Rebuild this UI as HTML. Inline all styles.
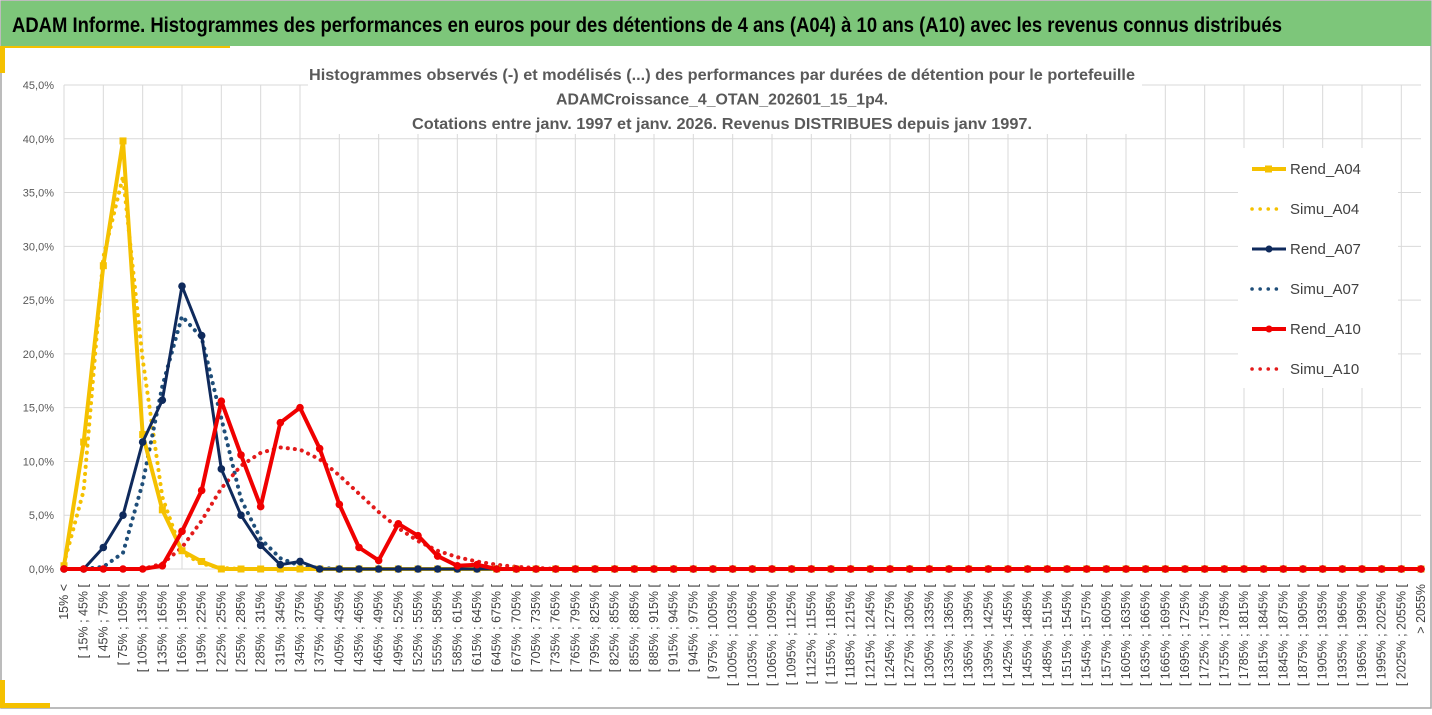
<!DOCTYPE html>
<html><head><meta charset="utf-8"><style>
body{margin:0;width:1432px;height:710px;overflow:hidden;background:#fff;font-family:"Liberation Sans",sans-serif;}
</style></head><body>
<svg id="c" width="1432" height="710" xmlns="http://www.w3.org/2000/svg"></svg>
<script>
const categories=[];
categories.push('15% <');
for(let a=15;a<2055;a+=30)categories.push('[ '+a+'% ; '+(a+30)+'% [');
categories.push('> 2055%');
const yTicks=[0,5,10,15,20,25,30,35,40,45];
const rendA04=[0.3,11.8,28.2,39.8,12.5,5.5,1.7,0.7,0,0,0,0,0];
const simuA04=[0.5,7.3,29,36.5,19.5,6.7,1.5,0.5,0.1,0,0,0,0];
const rendA07=[0,0,2.0,5.0,11.8,15.7,26.3,21.7,9.3,5.0,2.2,0.4,0.7,0,0,0,0,0,0,0,0,0];
const simuA07=[0,0,0.2,1.5,8,17,23.5,21.5,14,6.5,2.8,1.0,0.3,0.1,0,0,0,0,0,0,0,0];
const rendA10=[0,0,0,0,0,0.3,3.5,7.3,15.6,10.6,5.8,13.6,15.0,11.2,6.0,2.0,0.8,4.2,3.1,1.2,0.3,0.4];
const simuA10=[0,0,0,0,0,0.5,2,4.5,7.5,9.6,10.8,11.3,11.1,10.2,8.7,7.0,5.3,3.8,2.6,1.7,1.1,0.7,0.4,0.2,0.1];
function full(a){const r=a.slice();while(r.length<categories.length)r.push(0);return r;}
const NS='http://www.w3.org/2000/svg';
const svg=document.getElementById('c');
function el(t,at,p){const e=document.createElementNS(NS,t);for(const k in at)e.setAttribute(k,at[k]);(p||svg).appendChild(e);return e;}
const X0=64,X1=1421,Y0=569,Y45=85;
const xs=i=>X0+(X1-X0)*i/(categories.length-1);
const ys=v=>Y0-(Y0-Y45)*v/45;
let r=el('rect',{x:1,y:1,width:1430,height:707,fill:'#fff',stroke:'#a6a6a6','stroke-width':1.5});

r=el('rect',{x:1,y:1,width:1430,height:45,fill:'#7dc67a'});

let t=el('text',{x:12,y:32,'font-size':21,'font-weight':'bold',fill:'#000',textLength:1270,lengthAdjust:'spacingAndGlyphs'});
t.textContent='ADAM Informe. Histogrammes des performances en euros pour des détentions de 4 ans (A04) à 10 ans (A10) avec les revenus connus distribués';

el('rect',{x:0,y:46,width:230,height:2,fill:'#f5c100'});
el('rect',{x:0,y:46,width:5,height:27,fill:'#f5c100'});
el('rect',{x:0,y:703,width:50,height:5,fill:'#f5c100'});
el('rect',{x:0,y:680,width:5,height:28,fill:'#f5c100'});
const g=el('g',{});
yTicks.forEach(v=>{el('line',{x1:X0,x2:X1,y1:ys(v),y2:ys(v),stroke:'#d9d9d9','stroke-width':1},g);
 const tt=el('text',{x:54,y:ys(v)+4,'font-size':11,'text-anchor':'end',fill:'#595959'});tt.textContent=v.toFixed(1).replace('.',',')+'%';
 });
for(let i=0;i<categories.length;i+=2)el('line',{x1:xs(i),x2:xs(i),y1:Y45,y2:Y0,stroke:'#d9d9d9','stroke-width':1},g);
categories.forEach((c,i)=>{const tt=el('text',{transform:`translate(${xs(i)+4},584) rotate(-90)`,'font-size':12.5,'text-anchor':'end',fill:'#404040'});
 tt.textContent=c;});
el('rect',{x:308,y:62,width:834,height:72,fill:'#fff'});
const tl=[['Histogrammes observés (-) et modélisés (...) des performances par durées de détention pour le portefeuille',826],['ADAMCroissance_4_OTAN_202601_15_1p4.',332],['Cotations entre janv. 1997 et janv. 2026. Revenus DISTRIBUES depuis janv 1997.',620]];
tl.forEach((s,k)=>{
 const tt=el('text',{x:722,y:80+k*24.5,'font-size':16,'font-weight':'bold','text-anchor':'middle',fill:'#595959',textLength:s[1],lengthAdjust:'spacingAndGlyphs'});tt.textContent=s[0];
 });
const series=[
 {n:'Simu_A04',d:simuA04,c:'#f5c100',w:4,dash:'0.1 7',m:null},
 {n:'Simu_A07',d:simuA07,c:'#1f4e79',w:4,dash:'0.1 7',m:null},
 {n:'Simu_A10',d:simuA10,c:'#e31b1b',w:4,dash:'0.1 7',m:null},
 {n:'Rend_A04',d:rendA04,c:'#f5c100',w:4,dash:null,m:'sq'},
 {n:'Rend_A07',d:rendA07,c:'#0f2a5c',w:3,dash:null,m:'ci'},
 {n:'Rend_A10',d:rendA10,c:'#f00000',w:4,dash:null,m:'ci'}];
series.forEach(s=>{
 const d=full(s.d);const gg=el('g',{});
 
 const at={points:d.map((v,i)=>xs(i)+','+ys(v)).join(' '),fill:'none',stroke:s.c,'stroke-width':s.w,'stroke-linejoin':'round','stroke-linecap':'round'};
 if(s.dash)at['stroke-dasharray']=s.dash;
 el('polyline',at,gg);
 if(s.m)d.forEach((v,i)=>{let m;
  if(s.m==='sq')m=el('rect',{x:xs(i)-3.5,y:ys(v)-3.5,width:7,height:7,fill:s.c},gg);
  else m=el('circle',{cx:xs(i),cy:ys(v),r:3.8,fill:s.c},gg);
  });
});
const lg=el('g',{});
el('rect',{x:1238,y:148,width:160,height:240,fill:'#fff'},lg);
const legend=[['Rend_A04','#f5c100',false,'sq'],['Simu_A04','#f5c100',true],['Rend_A07','#0f2a5c',false,'ci'],['Simu_A07','#1f4e79',true],['Rend_A10','#f00000',false,'ci'],['Simu_A10','#e31b1b',true]];
legend.forEach((L,k)=>{const y=169+k*40;const e=el('g',{},lg);
 
 if(L[2])el('line',{x1:1252,x2:1282,y1:y,y2:y,stroke:L[1],'stroke-width':3.5,'stroke-dasharray':'0.1 8','stroke-linecap':'round'},e);
 else{el('line',{x1:1252,x2:1286,y1:y,y2:y,stroke:L[1],'stroke-width':L[0]==='Rend_A07'?3:4},e);
  if(L[3]==='sq')el('rect',{x:1265,y:y-3.5,width:7,height:7,fill:L[1]},e);else el('circle',{cx:1269,cy:y,r:3.5,fill:L[1]},e);}
 const tt=el('text',{x:1290,y:y+5,'font-size':15,fill:'#404040'},e);tt.textContent=L[0];});
</script>
</body></html>
